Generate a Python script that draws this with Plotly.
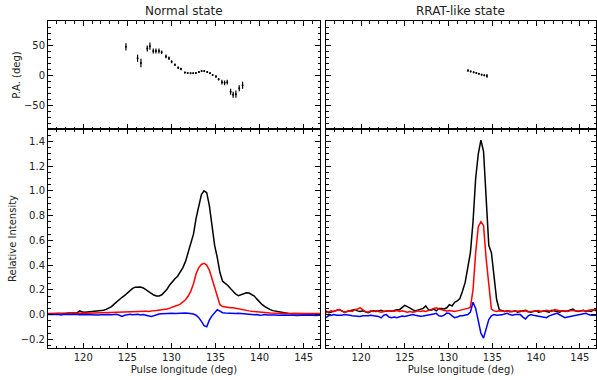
import plotly.graph_objects as go

# Pulse-longitude sampling grid (deg), 0.3 deg bins from 116.0 to 146.9
LON = [round(116.0 + 0.3 * k, 1) for k in range(104)]

# ---------------- Normal state profiles ----------------
NORMAL_I = [
    0.005, 0.005, 0.006, 0.005, 0.006, 0.008, 0.010, 0.010, 0.012, 0.012,
    0.012, 0.015, 0.030, 0.020, 0.018, 0.020, 0.020, 0.022, 0.025, 0.028,
    0.030, 0.035, 0.042, 0.052, 0.065, 0.085, 0.105, 0.125, 0.140, 0.155,
    0.175, 0.195, 0.212, 0.222, 0.225, 0.223, 0.215, 0.200, 0.185, 0.170,
    0.158, 0.150, 0.150, 0.160, 0.180, 0.205, 0.240, 0.270, 0.290, 0.310,
    0.340, 0.380, 0.430, 0.500, 0.560, 0.650, 0.780, 0.890, 0.970, 1.000,
    0.985, 0.880, 0.720, 0.560, 0.460, 0.340, 0.270, 0.255, 0.235, 0.210,
    0.185, 0.165, 0.152, 0.158, 0.170, 0.176, 0.174, 0.165, 0.150, 0.125,
    0.100, 0.080, 0.065, 0.050, 0.040, 0.032, 0.027, 0.022, 0.020, 0.012,
    0.008, 0.008, 0.006, 0.005, 0.006, 0.005, 0.005, 0.004, 0.005, 0.005,
    0.006, 0.005, 0.005, 0.005,
]
NORMAL_L = [
    0.008, 0.010, 0.008, 0.009, 0.010, 0.008, 0.010, 0.009, 0.010, 0.010,
    0.012, 0.010, 0.012, 0.010, 0.012, 0.011, 0.012, 0.013, 0.012, 0.014,
    0.015, 0.014, 0.016, 0.018, 0.017, 0.020, 0.022, 0.020, 0.022, 0.025,
    0.022, 0.025, 0.024, 0.026, 0.028, 0.025, 0.030, 0.028, 0.025, 0.030,
    0.032, 0.033, 0.035, 0.036, 0.040, 0.045, 0.052, 0.058, 0.065, 0.075,
    0.085, 0.100, 0.120, 0.150, 0.190, 0.250, 0.330, 0.380, 0.405, 0.415,
    0.400, 0.360, 0.290, 0.220, 0.140, 0.080, 0.065, 0.060, 0.057, 0.055,
    0.055, 0.050, 0.048, 0.045, 0.040, 0.035, 0.030, 0.027, 0.024, 0.020,
    0.018, 0.016, 0.015, 0.014, 0.012, 0.011, 0.010, 0.010, 0.009, 0.010,
    0.008, 0.010, 0.009, 0.010, 0.008, 0.009, 0.010, 0.008, 0.009, 0.010,
    0.009, 0.008, 0.010, 0.009,
]
NORMAL_V = [
    0.000, 0.002, -0.002, 0.001, 0.000, -0.003, 0.002, 0.000, -0.002, 0.001,
    0.003, 0.000, -0.002, 0.001, 0.000, -0.004, -0.002, 0.000, -0.005, -0.003,
    -0.002, 0.000, 0.002, 0.000, -0.002, 0.000, 0.003, -0.005, -0.015, -0.006,
    0.000, 0.002, -0.002, 0.000, 0.002, -0.003, 0.000, -0.005, -0.010, -0.015,
    -0.010, 0.000, 0.004, 0.006, 0.008, 0.008, 0.010, 0.010, 0.008, 0.010,
    0.012, 0.010, 0.012, 0.010, 0.008, 0.005, -0.005, -0.025, -0.055, -0.090,
    -0.098, -0.045, -0.010, 0.020, 0.040, 0.028, 0.015, 0.012, 0.010, 0.012,
    0.010, 0.008, 0.010, 0.008, 0.006, 0.000, -0.003, 0.000, -0.002, 0.000,
    -0.005, -0.003, 0.000, -0.004, -0.002, -0.005, -0.003, -0.006, -0.004, -0.005,
    -0.003, -0.006, -0.004, -0.005, -0.007, -0.004, -0.005, -0.006, -0.004, -0.006,
    -0.005, -0.007, -0.005, -0.006,
]

# ---------------- RRAT-like state profiles ----------------
RRAT_I = [
    0.030, 0.015, 0.020, 0.025, 0.030, 0.040, 0.030, 0.020, 0.025, 0.030,
    0.035, 0.040, 0.030, 0.025, 0.030, 0.020, 0.015, 0.025, 0.030, 0.025,
    0.030, 0.035, 0.025, 0.030, 0.030, 0.028, 0.035, 0.040, 0.040, 0.055,
    0.075, 0.065, 0.050, 0.040, 0.030, 0.035, 0.045, 0.050, 0.070, 0.040,
    0.035, 0.045, 0.030, 0.050, 0.050, 0.045, 0.055, 0.080, 0.070, 0.100,
    0.110, 0.130, 0.190, 0.260, 0.380, 0.500, 0.750, 1.100, 1.300, 1.410,
    1.320, 0.900, 0.560, 0.500, 0.300, 0.120, 0.040, 0.030, 0.025, 0.030,
    0.028, 0.025, 0.030, 0.020, 0.025, 0.030, 0.035, 0.025, 0.020, 0.025,
    0.030, 0.020, 0.025, 0.030, 0.025, 0.020, 0.035, 0.030, 0.025, 0.020,
    0.030, 0.025, 0.030, 0.035, 0.045, 0.030, 0.025, 0.030, 0.035, 0.025,
    0.030, 0.025, 0.040, 0.030,
]
RRAT_L = [
    0.015, 0.020, 0.030, 0.025, 0.030, 0.040, 0.030, 0.020, 0.025, 0.030,
    0.025, 0.040, 0.045, 0.055, 0.040, 0.025, 0.020, 0.030, 0.025, 0.030,
    0.025, 0.020, 0.025, 0.030, 0.025, 0.030, 0.028, 0.032, 0.025, 0.030,
    0.025, 0.020, 0.025, 0.020, 0.022, 0.030, 0.025, 0.030, 0.025, 0.030,
    0.040, 0.050, 0.055, 0.045, 0.040, 0.035, 0.030, 0.032, 0.030, 0.025,
    0.030, 0.035, 0.040, 0.040, 0.050, 0.060, 0.200, 0.500, 0.710, 0.750,
    0.720, 0.450, 0.250, 0.045, 0.030, 0.025, 0.030, 0.028, 0.025, 0.030,
    0.022, 0.025, 0.030, 0.028, 0.030, 0.025, 0.030, 0.022, 0.025, 0.030,
    0.028, 0.032, 0.025, 0.030, 0.035, 0.030, 0.025, 0.040, 0.035, 0.030,
    0.028, 0.030, 0.025, 0.030, 0.035, 0.030, 0.027, 0.030, 0.032, 0.028,
    0.035, 0.040, 0.038, 0.045,
]
RRAT_V = [
    -0.025, -0.008, -0.005, 0.000, -0.005, -0.008, -0.005, 0.000, 0.000, -0.005,
    -0.010, -0.012, -0.013, -0.015, -0.010, -0.012, -0.010, -0.005, -0.008, -0.012,
    -0.015, -0.027, -0.005, 0.000, -0.020, -0.025, -0.020, -0.025, -0.020, -0.012,
    -0.015, -0.010, -0.005, 0.000, -0.005, -0.010, -0.013, -0.012, -0.008, -0.005,
    -0.005, 0.005, 0.010, -0.010, -0.013, -0.005, 0.012, 0.010, -0.010, -0.025,
    -0.020, -0.010, -0.010, -0.005, 0.000, 0.020, 0.100, 0.050, -0.060, -0.150,
    -0.190, -0.110, -0.040, -0.010, 0.000, -0.005, -0.005, -0.002, 0.005, 0.010,
    0.000, -0.005, 0.000, -0.003, 0.000, -0.020, -0.035, -0.010, 0.000, -0.005,
    -0.010, -0.013, -0.015, -0.020, -0.025, -0.010, 0.000, 0.005, 0.010, 0.000,
    -0.015, -0.025, -0.020, -0.015, -0.012, -0.008, -0.005, 0.000, 0.005, 0.010,
    0.000, -0.005, -0.003, -0.005,
]

# ---------------- Position angles ----------------
PA_NORMAL_LON = [124.84, 126.16, 126.54, 127.26, 127.56, 127.94, 128.24, 128.58, 128.89,
                 129.38, 129.72, 130.02, 130.40, 130.77, 131.08, 131.53, 131.84, 132.17,
                 132.47, 132.78, 133.12, 133.42, 133.72, 134.06, 134.37, 134.67, 135.05,
                 135.35, 135.73, 136.03, 136.33, 136.71, 137.00, 137.31, 137.69, 138.07]
PA_NORMAL = [47, 28, 20, 44, 48, 40, 40, 40, 38,
             31, 28, 22, 17, 12, 10, 4, 3.5, 3,
             3, 3.5, 5, 6.5, 6.5, 5, 3, 0, -2.5,
             -7, -12, -13, -12, -28, -33, -32, -22, -17]
PA_NORMAL_ERR = [6, 6, 7, 5, 6, 4, 4, 4, 3,
                 3, 3, 2.5, 2, 2, 2, 1.5, 1.5, 1.5,
                 1.5, 1.5, 1.5, 1.5, 1.5, 1.5, 1.5, 1.5, 2,
                 2, 4, 4, 4, 5, 5, 6, 5, 6]

PA_RRAT_LON = [132.22, 132.53, 132.87, 133.18, 133.47, 133.78, 134.09, 134.39]
PA_RRAT = [7.5, 6, 4.5, 3.3, 2, 0.5, -0.5, -1.5]
PA_RRAT_ERR = [2, 1.5, 1.5, 1.5, 1.5, 1.5, 1.5, 3]

TITLES = ["Normal state", "RRAT-like state"]

FONT = "DejaVu Sans"
TXT = "#222"
fig = go.Figure()

def profile(x, y, color, xa, ya):
    fig.add_trace(go.Scatter(x=x, y=y, mode="lines", line=dict(color=color, width=1.5),
                             xaxis=xa, yaxis=ya, showlegend=False, hoverinfo="skip"))

profile(LON, NORMAL_I, "black", "x", "y")
profile(LON, NORMAL_L, "red", "x", "y")
profile(LON, NORMAL_V, "blue", "x", "y")
profile(LON, RRAT_I, "black", "x2", "y2")
profile(LON, RRAT_L, "red", "x2", "y2")
profile(LON, RRAT_V, "blue", "x2", "y2")

def pa(x, y, e, xa, ya):
    fig.add_trace(go.Scatter(x=x, y=y, mode="markers", marker=dict(size=2, color="black"),
                             error_y=dict(type="data", array=e, color="black", thickness=1.2, width=0),
                             xaxis=xa, yaxis=ya, showlegend=False, hoverinfo="skip"))

pa(PA_NORMAL_LON, PA_NORMAL, PA_NORMAL_ERR, "x3", "y3")
pa(PA_RRAT_LON, PA_RRAT, PA_RRAT_ERR, "x4", "y4")

W, H = 597, 380
ML, MR, MT, MB = 48, 1, 21, 32
pw = W - ML - MR
ph = H - MT - MB
left_dom = [0, 272 / pw]
right_dom = [278 / pw, 1]
split = (H - MB - 129) / ph
bot_dom = [0, split]
top_dom = [split, 1]

common = dict(showline=True, linecolor="black", linewidth=1, mirror="ticks",
              ticks="inside", ticklen=5, tickwidth=1, tickcolor="black",
              showgrid=False, zeroline=False,
              tickfont=dict(family=FONT, size=10, color=TXT))

xcommon = dict(common, range=[116, 146.85], tick0=0, dtick=5,
               minor=dict(ticks="inside", ticklen=2.5, tickcolor="black", dtick=1, showgrid=False))
ycommon_b = dict(common, range=[-0.27, 1.5], tick0=0, dtick=0.2, tickformat=".1f",
                 minor=dict(ticks="inside", ticklen=2.5, tickcolor="black", dtick=0.05, showgrid=False))
ycommon_t = dict(common, range=[-90, 90], tick0=0, dtick=50,
                 minor=dict(ticks="inside", ticklen=2.5, tickcolor="black", dtick=10, showgrid=False))

xtitle = dict(text="Pulse longitude (deg)", font=dict(family=FONT, size=10, color=TXT), standoff=3)

fig.update_layout(
    width=W, height=H,
    margin=dict(l=ML, r=MR, t=MT, b=MB, pad=0, autoexpand=False),
    paper_bgcolor="white", plot_bgcolor="white",
    font=dict(family=FONT, size=10, color=TXT),
    xaxis=dict(xcommon, domain=left_dom, anchor="y", title=xtitle),
    yaxis=dict(ycommon_b, domain=bot_dom, anchor="x",
               title=dict(text="Relative Intensity", font=dict(family=FONT, size=10, color=TXT), standoff=2)),
    xaxis2=dict(xcommon, domain=right_dom, anchor="y2", title=xtitle),
    yaxis2=dict(ycommon_b, domain=bot_dom, anchor="x2", showticklabels=False),
    xaxis3=dict(xcommon, domain=left_dom, anchor="y3", showticklabels=False),
    yaxis3=dict(ycommon_t, domain=top_dom, anchor="x3",
                title=dict(text="P.A. (deg)", font=dict(family=FONT, size=10, color=TXT), standoff=1)),
    xaxis4=dict(xcommon, domain=right_dom, anchor="y4", showticklabels=False),
    yaxis4=dict(ycommon_t, domain=top_dom, anchor="x4", showticklabels=False),
)

for dom, t in zip([left_dom, right_dom], TITLES):
    fig.add_annotation(text=t, x=(dom[0] + dom[1]) / 2, y=1, xref="paper", yref="paper",
                       xanchor="center", yanchor="bottom", yshift=1, showarrow=False,
                       font=dict(family=FONT, size=12, color=TXT))

fig.write_html("out.html", config={"displayModeBar": False},
               post_script="document.body.style.margin='0';document.body.style.overflow='hidden';")
